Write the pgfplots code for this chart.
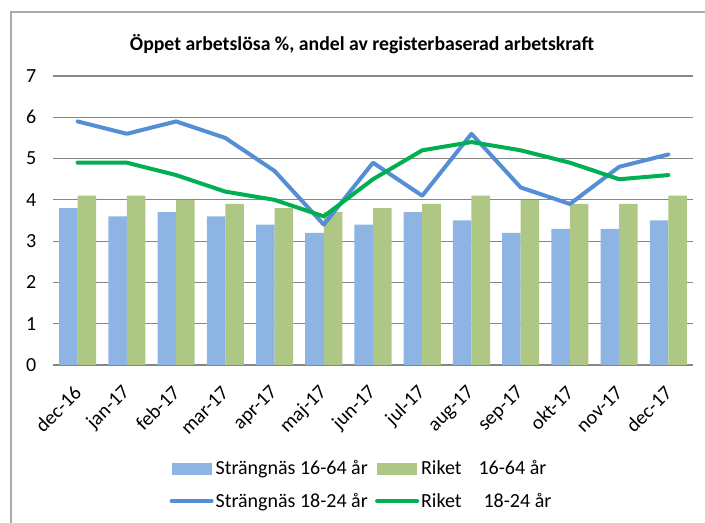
\documentclass[border=0pt]{standalone}
\usepackage{pgfplots}
\pgfplotsset{compat=1.18}
\usepackage{fontspec}
\setmainfont{Carlito}
\definecolor{barblue}{RGB}{142,180,227}
\definecolor{bargreen}{RGB}{175,199,132}
\definecolor{lineblue}{RGB}{85,142,213}
\definecolor{linegreen}{RGB}{0,176,80}
\definecolor{gridgray}{RGB}{134,134,134}
\begin{document}
\begin{tikzpicture}[x=1pt,y=1pt]
\useasboundingbox (0,0) rectangle (528.75,392.25);
\draw[gridgray!70, line width=0.8pt] (528.75,383.25) -- (8.25,383.25) -- (8.25,0);
\node[font=\fontsize{14.8}{16}\selectfont\bfseries] at (271.5,359.5) {Öppet arbetslösa \%, andel av registerbaserad arbetskraft};
\begin{axis}[
  at={(39.75pt,118.5pt)}, anchor=south west,
  scale only axis, width=480pt, height=216.75pt,
  xmin=-0.5, xmax=12.5, ymin=0, ymax=7,
  axis line style={draw=none},
  ytick={0,1,...,7},
  ymajorgrids, grid style={gridgray, line width=0.8pt},
  major tick length=0pt,
  xtick={0,...,12},
  xticklabels={dec-16,jan-17,feb-17,mar-17,apr-17,maj-17,jun-17,jul-17,aug-17,sep-17,okt-17,nov-17,dec-17},
  xticklabel style={font=\fontsize{15}{17}\selectfont, anchor=east, xshift=2.5pt, yshift=-16pt, rotate=45},
  yticklabel style={font=\fontsize{15}{17}\selectfont, xshift=-9pt},
  /pgf/number format/assume math mode=true,
  legend columns=2,
  legend style={draw=none, fill=none, at={(0.482,-0.415)}, anchor=center,
    font=\fontsize{15}{18}\selectfont, row sep=8pt,
    nodes={inner xsep=1.5pt},
    /tikz/every even column/.append style={column sep=4pt},
    /tikz/every odd column/.append style={column sep=0pt}},
  legend cell align=left,
  clip=false,
]
\addplot[ybar, bar width=13.9pt, bar shift=-6.95pt, fill=barblue, draw=none,
  legend image code/.code={\fill[barblue] (0pt,-4.5pt) rectangle (30pt,4.5pt);}]
  coordinates {(0,3.8)(1,3.6)(2,3.7)(3,3.6)(4,3.4)(5,3.2)(6,3.4)(7,3.7)(8,3.5)(9,3.2)(10,3.3)(11,3.3)(12,3.5)};
\addlegendentry{Strängnäs 16-64 år}
\addplot[ybar, bar width=13.9pt, bar shift=6.95pt, fill=bargreen, draw=none,
  legend image code/.code={\fill[bargreen] (0pt,-4.5pt) rectangle (30pt,4.5pt);}]
  coordinates {(0,4.1)(1,4.1)(2,4.0)(3,3.9)(4,3.8)(5,3.7)(6,3.8)(7,3.9)(8,4.1)(9,4.0)(10,3.9)(11,3.9)(12,4.1)};
\addlegendentry{Riket\hspace{0.85em}16-64 år}
\addplot[sharp plot, lineblue, line width=3pt, line join=round, line cap=round,
  legend image code/.code={\draw[lineblue, line width=3pt, line cap=round] (0pt,0pt) -- (30pt,0pt);}]
  coordinates {(0,5.9)(1,5.6)(2,5.9)(3,5.5)(4,4.7)(5,3.4)(6,4.9)(7,4.1)(8,5.6)(9,4.3)(10,3.9)(11,4.8)(12,5.1)};
\addlegendentry{Strängnäs 18-24 år}
\addplot[sharp plot, linegreen, line width=3pt, line join=round, line cap=round,
  legend image code/.code={\draw[linegreen, line width=3pt, line cap=round] (0pt,0pt) -- (30pt,0pt);}]
  coordinates {(0,4.9)(1,4.9)(2,4.6)(3,4.2)(4,4.0)(5,3.6)(6,4.5)(7,5.2)(8,5.4)(9,5.2)(10,4.9)(11,4.5)(12,4.6)};
\addlegendentry{Riket\hspace{1.1em}18-24 år}
\end{axis}
\end{tikzpicture}
\end{document}
